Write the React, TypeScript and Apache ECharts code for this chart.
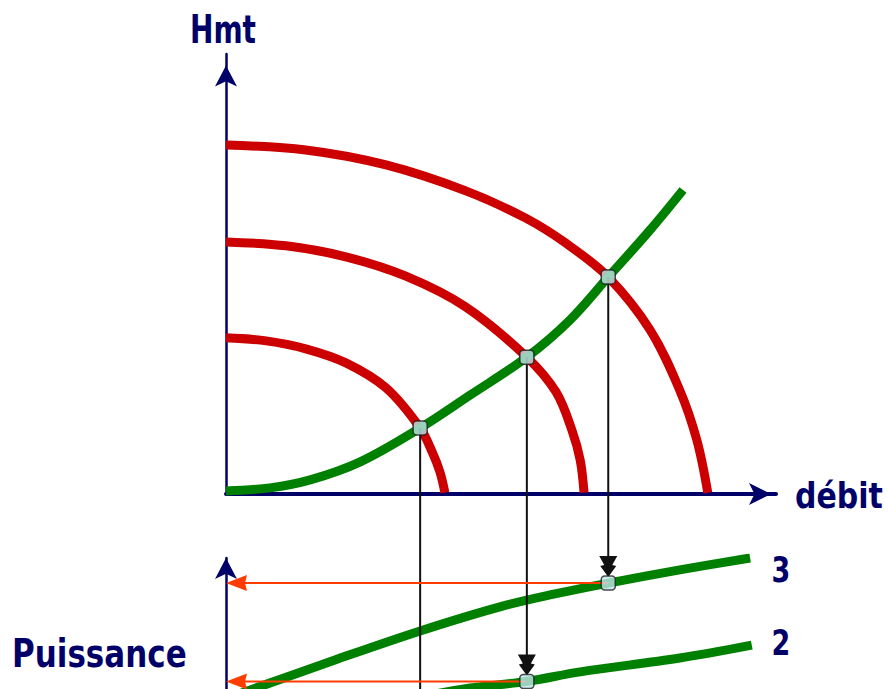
import React, { useEffect, useRef } from 'react';
import * as echarts from 'echarts';

// Upper diagram: head (Hmt) against flow (débit), both on a 0–100 scale.
// Pump curves for three rotation speeds.
const pump1Q = [0, 7.3, 14.5, 21.8, 29.1, 35.3, 37.5, 38.9, 39.8];
const pump1H = [35.5, 34.8, 33.0, 29.8, 24.1, 15.0, 9.5, 5.0, 0.3];

const pump2Q = [0, 10.9, 21.8, 32.7, 43.6, 54.7, 60.0, 62.9, 64.4, 65.1];
const pump2H = [57.3, 56.4, 53.9, 49.5, 42.5, 31.1, 23.2, 14.5, 7.7, 0.3];

const pump3Q = [0, 14.5, 29.1, 43.6, 54.5, 61.8, 69.5, 77.1, 82.5, 85.6, 87.6];
const pump3H = [79.3, 78.2, 74.8, 68.9, 62.7, 57.0, 49.3, 37.3, 23.6, 12.3, 0.3];

// Network (system) curve
const systemQ = [0, 8.0, 15.3, 24.4, 35.3, 44.4, 54.7, 62.5, 69.5, 77.1, 83.1];
const systemH = [0.7, 1.4, 3.2, 7.3, 15.0, 22.5, 31.1, 39.5, 49.3, 60.0, 69.1];

// Operating points (pump curve ∩ system curve) and the matching absorbed power
const opQ = [35.3, 54.7, 69.5];
const opH = [15.0, 31.1, 49.3];
const opP: (number | null)[] = [null, 62.6, 92.4];

// Lower diagram: power against flow, for speeds 2 and 3
const power2Q = [37.1, 44.4, 54.7, 64.4, 82.5, 95.6];
const power2P = [58.5, 60.6, 62.6, 65.5, 69.7, 73.6];

const power3Q = [1.8, 4.4, 19.8, 35.3, 49.8, 59.8, 69.5, 82.5, 95.3];
const power3P = [58.5, 60.0, 69.1, 77.9, 85.2, 89.1, 92.4, 96.4, 100.0];

const NAVY = '#000068';
const RED = '#cc0000';
const GREEN = '#008000';
const ORANGE = '#ff3c00';
const INK = '#111111';
const FONT = '"DejaVu Sans", Verdana, sans-serif';

const zip = (xs: number[], ys: (number | null)[]) =>
  xs.map((x, i) => [x, ys[i]]).filter((p) => p[1] !== null);

const hiddenParts = {
  axisTick: { show: false },
  axisLabel: { show: false },
  splitLine: { show: false },
};

function curve(name: string, xs: number[], ys: number[], color: string, axis: number, z: number) {
  return {
    name,
    type: 'line',
    xAxisIndex: axis,
    yAxisIndex: axis,
    data: zip(xs, ys),
    smooth: 0.35,
    showSymbol: false,
    silent: true,
    z,
    lineStyle: { color, width: 9, cap: 'butt' },
  };
}

const markerStyle = {
  type: 'scatter',
  symbol: 'roundRect',
  symbolSize: 14,
  silent: true,
  z: 20,
  itemStyle: { color: '#bfe6e8', borderColor: '#1e1e1e', borderWidth: 1.5 },
};

function buildOption() {
  return {
    animation: false,
    grid: [
      { left: 226, top: 54, width: 550, height: 440 },
      { left: 226, top: 558, width: 550, height: 330 },
    ],
    xAxis: [
      {
        gridIndex: 0,
        type: 'value',
        min: 0,
        max: 100,
        ...hiddenParts,
        axisLine: {
          show: true,
          onZero: false,
          lineStyle: { color: NAVY, width: 4 },
          symbol: ['none', 'arrow'],
          symbolSize: [16.5, 22],
          symbolOffset: [0, -5],
        },
      },
      {
        gridIndex: 1,
        type: 'value',
        min: 0,
        max: 100,
        ...hiddenParts,
        axisLine: { show: true, onZero: false, lineStyle: { color: NAVY, width: 4 } },
      },
    ],
    yAxis: [
      {
        gridIndex: 0,
        type: 'value',
        min: 0,
        max: 100,
        ...hiddenParts,
        axisLine: {
          show: true,
          onZero: false,
          lineStyle: { color: NAVY, width: 2.5 },
          symbol: ['none', 'arrow'],
          symbolSize: [16.5, 21],
          symbolOffset: [0, -11.5],
        },
      },
      {
        gridIndex: 1,
        type: 'value',
        min: 0,
        max: 100,
        ...hiddenParts,
        axisLine: {
          show: true,
          onZero: false,
          lineStyle: { color: NAVY, width: 2.5 },
          symbol: ['none', 'arrow'],
          symbolSize: [16.5, 21],
          symbolOffset: [0, 0],
        },
      },
    ],
    series: [
      curve('pump1', pump1Q, pump1H, RED, 0, 2),
      curve('pump2', pump2Q, pump2H, RED, 0, 2),
      curve('pump3', pump3Q, pump3H, RED, 0, 2),
      curve('system', systemQ, systemH, GREEN, 0, 3),
      curve('power2', power2Q, power2P, GREEN, 1, 3),
      curve('power3', power3Q, power3P, GREEN, 1, 3),
      { ...markerStyle, name: 'operating', xAxisIndex: 0, yAxisIndex: 0, data: zip(opQ, opH) },
      { ...markerStyle, name: 'power', xAxisIndex: 1, yAxisIndex: 1, data: zip(opQ, opP) },
    ],
  };
}

function label(text: string, x: number, y: number, size: number, scaleY: number, align: string) {
  return {
    type: 'text',
    x,
    y,
    scaleY,
    z: 30,
    silent: true,
    style: {
      text,
      font: `bold ${size}px ${FONT}`,
      fill: NAVY,
      align,
      verticalAlign: 'middle',
    },
  };
}

function buildOverlay(chart: echarts.ECharts, height: number) {
  const els: any[] = [];
  const toTop = (p: number[]) => chart.convertToPixel({ gridIndex: 0 }, p) as number[];
  const toBottom = (p: number[]) => chart.convertToPixel({ gridIndex: 1 }, p) as number[];

  opQ.forEach((q, i) => {
    const [x1, y1] = toTop([q, opH[i]]);
    const p = opP[i];
    if (p === null) {
      els.push({
        type: 'line',
        z: 10,
        silent: true,
        shape: { x1, y1, x2: x1, y2: height },
        style: { stroke: INK, lineWidth: 2 },
      });
      return;
    }
    const [x2, y2] = toBottom([q, p]);
    const tip = y2 - 6;
    // vertical projection down to the power curve, with its arrowhead
    els.push({
      type: 'line',
      z: 10,
      silent: true,
      shape: { x1, y1, x2: x1, y2: tip - 12 },
      style: { stroke: INK, lineWidth: 2 },
    });
    els.push({
      type: 'polygon',
      z: 10,
      silent: true,
      shape: {
        points: [
          [x2, tip],
          [x2 - 8, tip - 11],
          [x2 - 4, tip - 12],
          [x2 - 9, tip - 21],
          [x2 + 9, tip - 21],
          [x2 + 4, tip - 12],
          [x2 + 8, tip - 11],
        ],
      },
      style: { fill: INK },
    });
    // horizontal read-out towards the power axis
    const [xa, ya] = toBottom([0, p]);
    els.push({
      type: 'line',
      z: 11,
      silent: true,
      shape: { x1: x2, y1: ya, x2: xa + 15, y2: ya },
      style: { stroke: ORANGE, lineWidth: 2 },
    });
    els.push({
      type: 'polygon',
      z: 11,
      silent: true,
      shape: {
        points: [
          [xa, ya],
          [xa + 21, ya - 8],
          [xa + 19, ya],
          [xa + 21, ya + 8],
        ],
      },
      style: { fill: ORANGE },
    });
  });

  els.push(label('Hmt', 223, 29, 28, 1.4, 'center'));
  els.push(label('débit', 795, 496, 30, 1.18, 'left'));
  els.push(label('Puissance', 12, 654, 31, 1.24, 'left'));
  els.push(label('3', 781, 570, 27, 1.32, 'center'));
  els.push(label('2', 781, 643, 27, 1.32, 'center'));
  return els;
}

export default function App() {
  const ref = useRef<HTMLDivElement>(null);
  useEffect(() => {
    const el = ref.current;
    if (!el) return;
    const chart = echarts.init(el, null, { renderer: 'svg' });
    chart.setOption(buildOption());
    chart.setOption({ graphic: buildOverlay(chart, el.clientHeight) });
    return () => chart.dispose();
  }, []);
  // The lower diagram runs on past the bottom of the window
  return (
    <div
      ref={ref}
      style={{ position: 'fixed', left: 0, top: 0, width: 888, height: 900, background: '#ffffff' }}
    />
  );
}
